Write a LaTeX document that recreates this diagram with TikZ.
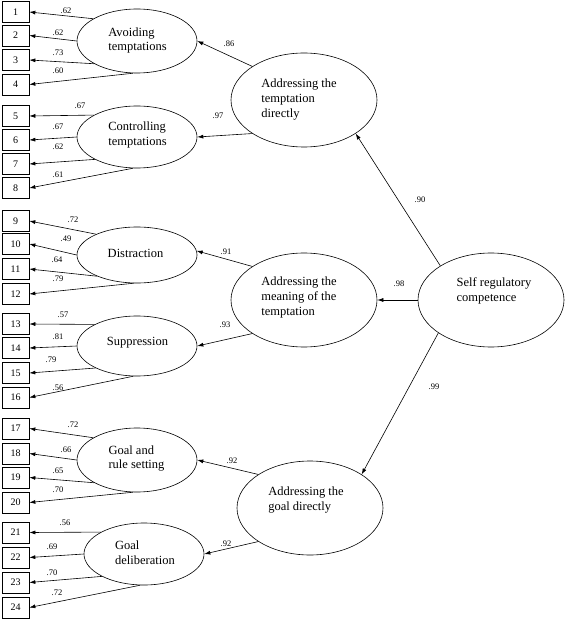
\documentclass[tikz,border=0pt]{standalone}
\usepackage{fontspec}
\setmainfont{Liberation Serif}
\usetikzlibrary{shapes.geometric,arrows.meta}
\begin{document}
\begin{tikzpicture}[x=1pt,y=-1pt,
  box/.style={draw,line width=0.7pt,minimum width=27pt,minimum height=21pt,inner sep=0pt,font=\fontsize{10}{12}\selectfont},
  lat/.style={draw,ellipse,line width=0.6pt,minimum width=120pt,inner sep=0pt},
  big/.style={draw,ellipse,line width=0.6pt,minimum width=146pt,minimum height=94pt,inner sep=0pt},
  txt/.style={align=left,inner sep=0pt,font=\fontsize{12.5}{14.8}\selectfont},
  coef/.style={inner sep=0pt,font=\fontsize{8.5}{10}\selectfont},
  arr/.style={line width=0.6pt,-{Latex[length=6pt,width=4pt]}}
]
\useasboundingbox (0,0) rectangle (567,620);

% observed indicators
\foreach \i/\y in {1/12,2/35.5,3/60,4/84.5,5/116,6/140,7/164,8/188,
                   9/221,10/244,11/269,12/294,13/324,14/348,15/373,16/397.5,
                   17/428.5,18/453.5,19/477.5,20/502.5,21/532.5,22/557.5,23/582.5,24/607.5}
  \node[box] (b\i) at (15.5,\y) {\i};

% first-order latent variables
\node[lat,minimum height=64pt] (avoid) at (137,41) {};
\node[lat,minimum height=62pt] (contr) at (137,137) {};
\node[lat,minimum height=56pt] (distr) at (137,255) {};
\node[lat,minimum height=60pt] (suppr) at (137,346) {};
\node[lat,minimum height=64pt] (grule) at (137,460) {};
\node[lat,minimum height=62pt] (gdelib) at (144,554) {};

\node[txt] (tavoid) at (137.5,40.5) {Avoiding\\temptations};
\node[txt] (tcontr) at (137.5,135) {Controlling\\temptations};
\node[txt] (tdistr) at (135.5,253) {Distraction};
\node[txt] (tsuppr) at (137.5,343) {Suppression};
\node[txt] (tgrule) at (136.5,458.5) {Goal and\\rule setting};
\node[txt] (tgdelib) at (145,552.5) {Goal\\deliberation};

% second-order latent variables
\node[big] (tempt) at (304,100) {};
\node[big] (mean) at (304,300) {};
\node[big] (self) at (491,300) {};
\node[big] (goal) at (310,508) {};

\node[txt] (ttempt) at (299,99.5) {Addressing the\\temptation\\directly};
\node[txt] (tmean) at (299,297.5) {Addressing the\\meaning of the\\temptation};
\node[txt] (tself) at (494,291) {Self regulatory\\competence};
\node[txt] (tgoal) at (306,500) {Addressing the\\goal directly};

% loadings on indicators
\foreach \e/\p/\q/\r/\s in {avoid/1/2/3/4, contr/5/6/7/8, distr/9/10/11/12,
                            suppr/13/14/15/16, grule/17/18/19/20, gdelib/21/22/23/24} {
  \draw[arr] (\e.153) -- (b\p.east);
  \draw[arr] (\e.180) -- (b\q.east);
  \draw[arr] (\e.208) -- (b\r.east);
  \draw[arr] (\e.263) -- (b\s.east);
}

\foreach \n/\x/\y/\v in {1/66/11/.62, 2/58/33/.62, 3/58/53/.73, 4/58/71/.60,
                         5/80/106/.67, 6/58/127/.67, 7/58/147/.62, 8/58/175/.61,
                         9/73/220/.72, 10/66/239/.49, 11/57/260/.64, 12/58/279/.79,
                         13/63/315/.57, 14/58/337/.81, 15/51/360/.79, 16/58/388/.56,
                         17/73/425/.72, 18/66/450/.66, 19/58/471/.65, 20/58/490/.70,
                         21/65/523/.56, 22/52/547/.69, 23/52/573/.70, 24/57/593/.72}
  \node[coef] (c\n) at (\x,\y) {\v};

% second-order paths
\draw[arr] (tempt.147) -- (avoid.east);
\draw[arr] (tempt.213) -- (contr.east);
\draw[arr] (mean.147) -- (distr.4);
\draw[arr] (mean.213) -- (suppr.east);
\draw[arr] (goal.147) -- (grule.east);
\draw[arr] (goal.213) -- (gdelib.east);

\node[coef] (k1) at (229,44) {.86};
\node[coef] (k2) at (218,116) {.97};
\node[coef] (k3) at (226,252) {.91};
\node[coef] (k4) at (225,325) {.93};
\node[coef] (k5) at (232,461) {.92};
\node[coef] (k6) at (226,544) {.92};

% top level
\draw[arr] (self.146) -- (tempt.327);
\draw[arr] (self.west) -- (mean.east);
\draw[arr] (self.212) -- (goal.33);

\node[coef] (k7) at (420,200) {.90};
\node[coef] (k8) at (399,284) {.98};
\node[coef] (k9) at (434,387) {.99};
\end{tikzpicture}
\end{document}
